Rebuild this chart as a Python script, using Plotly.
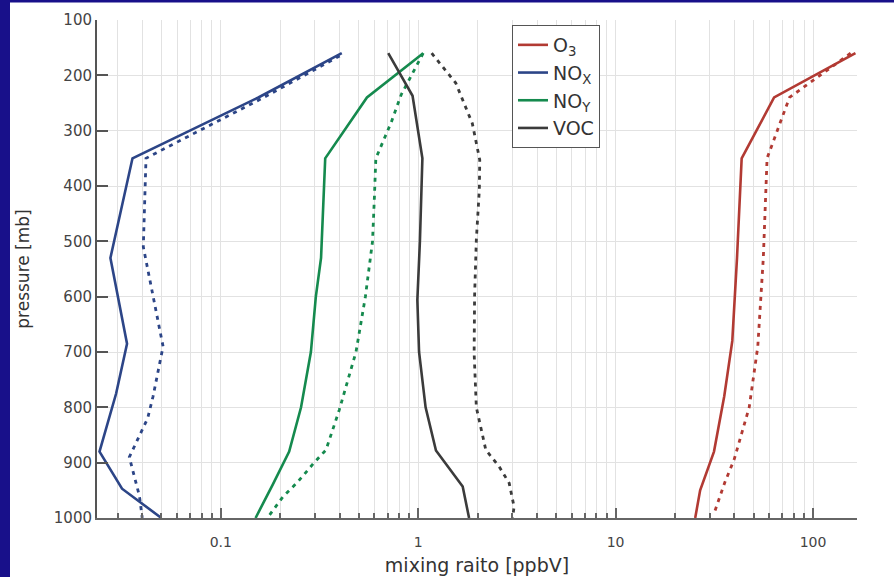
import plotly.graph_objects as go
import numpy as np

# Vertical profiles: pressure levels [mb] and mixing ratios [ppbV]
# solid = profile A, dashed = profile B
o3_p = [160, 240, 350, 530, 680, 780, 880, 950, 1000]
o3_solid = [164, 63.5, 43.5, 41.2, 39.0, 35.5, 31.5, 26.8, 25.3]
o3_dash_p = [160, 210, 240, 350, 530, 690, 800, 895, 935, 995]
o3_dash = [155, 99, 76, 58.5, 56, 52.5, 47.5, 39.8, 35.8, 31.3]

nox_p = [160, 240, 350, 530, 685, 775, 880, 947, 1000]
nox_solid = [0.41, 0.155, 0.0357, 0.0276, 0.0335, 0.0295, 0.0243, 0.0316, 0.050]
nox_dash_p = [165, 240, 342, 350, 510, 690, 780, 820, 890, 960, 1000]
nox_dash = [0.40, 0.165, 0.046, 0.0418, 0.0405, 0.051, 0.0454, 0.0426, 0.0344, 0.0387, 0.040]

noy_p = [160, 240, 350, 530, 600, 700, 800, 880, 940, 1000]
noy_solid = [1.06, 0.55, 0.338, 0.322, 0.303, 0.286, 0.255, 0.222, 0.183, 0.150]
noy_dash_p = [160, 235, 285, 350, 420, 500, 600, 700, 805, 877, 900, 935, 962, 1000]
noy_dash = [1.06, 0.82, 0.73, 0.61, 0.60, 0.587, 0.54, 0.484, 0.398, 0.341, 0.297, 0.245, 0.206, 0.172]

voc_p = [160, 237, 350, 500, 606, 700, 800, 878, 943, 1000]
voc_solid = [0.705, 0.936, 1.05, 1.02, 0.99, 1.01, 1.09, 1.23, 1.68, 1.81]
voc_dash_p = [160, 214, 287, 353, 407, 497, 600, 702, 800, 877, 907, 937, 980, 1000]
voc_dash = [1.17, 1.55, 1.88, 2.05, 2.04, 1.97, 1.93, 1.92, 1.97, 2.2, 2.57, 2.89, 3.06, 3.0]

species = ["O<sub>3</sub>", "NO<sub>X</sub>", "NO<sub>Y</sub>", "VOC"]
colors = ["#b23a33", "#2c4587", "#158a4e", "#3b3b3b"]

profiles = [
    (o3_p, o3_solid, o3_dash_p, o3_dash),
    (nox_p, nox_solid, nox_dash_p, nox_dash),
    (noy_p, noy_solid, noy_dash_p, noy_dash),
    (voc_p, voc_solid, voc_dash_p, voc_dash),
]

x_ticks = [0.1, 1, 10, 100]
x_tick_text = ["0.1", "1", "10", "100"]
y_ticks = [100, 200, 300, 400, 500, 600, 700, 800, 900, 1000]

W, H = 894, 577
ML, MR, MT, MB = 97, 37, 20, 59
FONT = "DejaVu Sans"

fig = go.Figure()

for name, col, (p, v, pd_, vd) in zip(species, colors, profiles):
    fig.add_trace(go.Scatter(
        x=vd, y=pd_, mode="lines", showlegend=False, hoverinfo="skip",
        line=dict(color=col, width=2.8, dash="4px,5px"),
    ))
for name, col, (p, v, pd_, vd) in zip(species, colors, profiles):
    fig.add_trace(go.Scatter(
        x=v, y=p, mode="lines", name=name,
        line=dict(color=col, width=2.6),
    ))

# minor log ticks 2..9 in each decade
minor_vals = [m * 10.0 ** e for e in range(-2, 3) for m in range(2, 10)]
minor_vals = [m for m in minor_vals if 0.0236 < m < 167]

fig.update_xaxes(
    type="log",
    range=[np.log10(0.0236), np.log10(167)],
    automargin=False,
    tickmode="array", tickvals=x_ticks, ticktext=x_tick_text,
    ticks="inside", ticklen=10, tickwidth=2, tickcolor="#666",
    ticklabelstandoff=10,
    showline=True, linecolor="#666", linewidth=2,
    showgrid=True, gridcolor="#e2e2e2", gridwidth=1,
    minor=dict(tickmode="array", tickvals=minor_vals, ticks="inside",
               ticklen=5, tickwidth=2, tickcolor="#666",
               showgrid=True, gridcolor="#e2e2e2", gridwidth=1),
    tickfont=dict(family=FONT, size=14, color="#444"),
    title=dict(text="mixing raito [ppbV]", standoff=10,
               font=dict(family=FONT, size=19, color="#333")),
    zeroline=False,
)
fig.update_yaxes(
    range=[1000, 100],
    automargin=False,
    tickmode="array", tickvals=y_ticks,
    ticks="inside", ticklen=11, tickwidth=2, tickcolor="#555",
    showline=True, linecolor="#555", linewidth=2,
    showgrid=True, gridcolor="#e2e2e2", gridwidth=1,
    tickfont=dict(family=FONT, size=15, color="#444"),
    title=dict(text="pressure [mb]", standoff=20,
               font=dict(family=FONT, size=17, color="#333")),
    zeroline=False,
)

pw = W - ML - MR
ph = H - MT - MB

def px_x(x):
    return (x - ML) / pw

def px_y(y):
    return 1 - (y - MT) / ph

# dark blue frame strips along the left and top edges
frame_color = "#18108a"
fig.add_shape(type="rect", xref="paper", yref="paper", layer="above",
              x0=px_x(0), x1=px_x(10), y0=px_y(H), y1=px_y(0),
              fillcolor=frame_color, line_width=0)
fig.add_shape(type="rect", xref="paper", yref="paper", layer="above",
              x0=px_x(0), x1=px_x(W), y0=px_y(2.5), y1=px_y(0),
              fillcolor=frame_color, line_width=0)

fig.update_layout(
    width=W, height=H,
    margin=dict(l=ML, r=MR, t=MT, b=MB, autoexpand=False),
    paper_bgcolor="white", plot_bgcolor="white",
    font=dict(family=FONT, color="#333"),
    legend=dict(
        x=px_x(512), y=px_y(25), xanchor="left", yanchor="top",
        bgcolor="white", bordercolor="#555", borderwidth=1,
        font=dict(family=FONT, size=19, color="#333"),
        itemwidth=30, tracegroupgap=0,
    ),
)

fig.write_html("out.html")
